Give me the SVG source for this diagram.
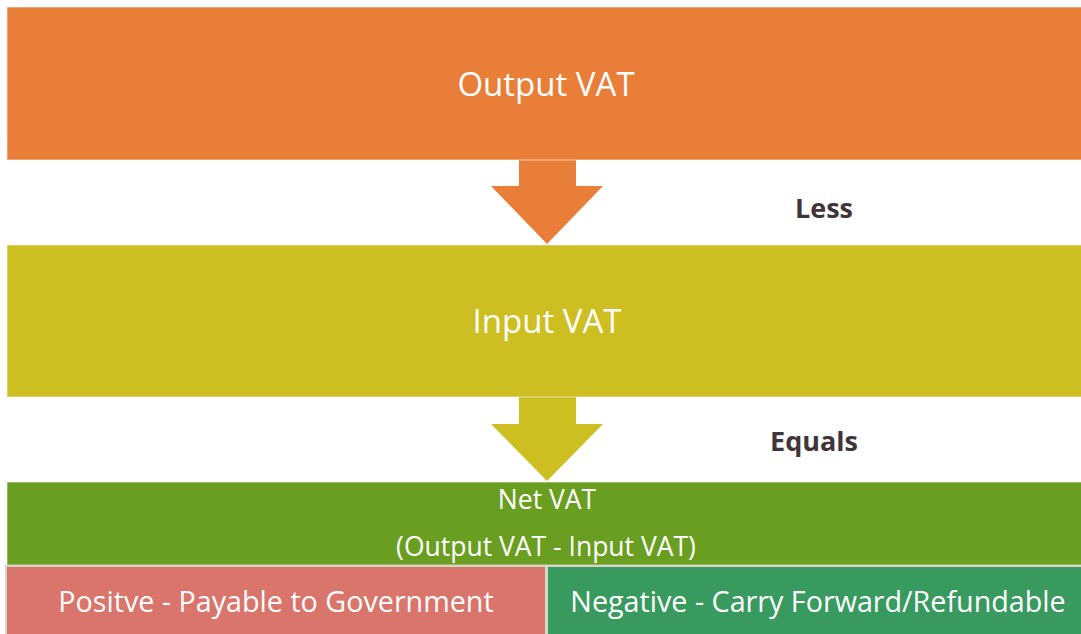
<svg xmlns="http://www.w3.org/2000/svg" width="1081" height="634" viewBox="0 0 1081 634">
<style>
.big{font-family:"Open Sans","Noto Sans","Liberation Sans",sans-serif;fill:#fff;text-anchor:middle}
.lbl{font-family:"Open Sans","Noto Sans","Liberation Sans",sans-serif;font-weight:bold;fill:#40363a;text-anchor:middle;font-size:27px}
.box{stroke:#fff;stroke-opacity:0.4;stroke-width:1.5}
</style>
<rect width="1081" height="634" fill="#fff"/>
<g id="connectors">
<polygon points="519,160 576,160 576,186 603,186 547,244 491,186 519,186" fill="#e87e38"/>
<polygon points="519,397 576,397 576,424 603,424 547,481 491,424 519,424" fill="#cdbe22"/>
</g>
<g id="output-vat">
<rect class="box" x="7" y="7" width="1080" height="153" fill="#e87e38"/>
<text class="big" x="546" y="96" font-size="33">Output VAT</text>
</g>
<g id="label-less"><text class="lbl" x="824" y="218">Less</text></g>
<g id="input-vat">
<rect class="box" x="7" y="245" width="1080" height="152" fill="#cdbe22"/>
<text class="big" x="547" y="333" font-size="33">Input VAT</text>
</g>
<g id="label-equals"><text class="lbl" x="814" y="451">Equals</text></g>
<g id="net-vat">
<rect class="box" x="7" y="482" width="1080" height="83" fill="#6a9e20"/>
<text class="big" x="547" y="509" font-size="26.5">Net VAT</text>
<text class="big" x="546" y="556" font-size="26.5">(Output VAT - Input VAT)</text>
</g>
<g id="positive">
<rect x="6" y="566" width="540" height="70" fill="#d9756b" stroke="#d8d4c4" stroke-width="2"/>
<text class="big" x="276" y="612" font-size="28.7">Positve - Payable to Government</text>
</g>
<g id="negative">
<rect x="547" y="566" width="540" height="70" fill="#389a5e" stroke="#d8d4c4" stroke-width="2"/>
<text class="big" x="818" y="612" font-size="28.7">Negative - Carry Forward/Refundable</text>
</g>
</svg>
